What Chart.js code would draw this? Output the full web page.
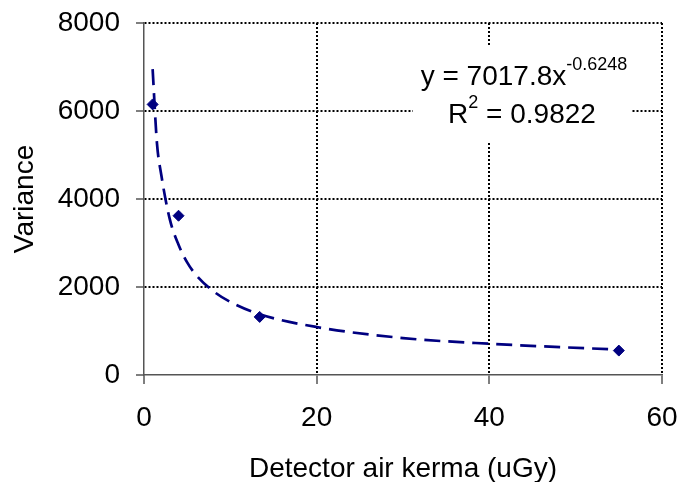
<!DOCTYPE html>
<html>
<head>
<meta charset="utf-8">
<script src="https://cdn.jsdelivr.net/npm/chart.js@4/dist/chart.umd.min.js"></script>
<style>
    html, body { margin: 0; padding: 0; background: #fff; }
    #wrap { width: 678px; height: 482px; }
</style>
</head>
<body>
<div id="wrap"><canvas id="varianceChart" width="678" height="482"></canvas></div>
<script>
// Measured points
const kermaValues = [1, 4, 13.4, 55];
const varianceValues = [6150, 3620, 1320, 555];

// Power trendline
const trendKerma = [1, 1.5, 2, 3, 4, 5, 6, 8, 10, 13.4, 20, 30, 40, 55];
const trendVariance = [6950, 5270, 4550, 3530, 2960, 2560, 2280, 1910, 1660, 1380, 1090, 840, 710, 575];

// Axis ticks
const xTicks = [0, 20, 40, 60];
const yTicks = [0, 2000, 4000, 6000, 8000];

const fontFamily = '"Liberation Sans", Arial, sans-serif';
const navy = '#000080';

// Equation label with white box behind it
const equationLabel = {
    id: 'equationLabel',
    beforeDatasetsDraw(chart) {
        const ctx = chart.ctx;
        ctx.save();
        ctx.fillStyle = '#fff';
        ctx.fillRect(413, 45, 219, 97);
        ctx.fillStyle = '#000';
        ctx.textBaseline = 'alphabetic';

        // line 1: y = 7017.8x^-0.6248
        ctx.font = '28px ' + fontFamily;
        const base1 = 'y = 7017.8x';
        const sup1 = '-0.6248';
        const w1 = ctx.measureText(base1).width;
        ctx.font = '18px ' + fontFamily;
        const ws1 = ctx.measureText(sup1).width;
        let x1 = 524 - (w1 + ws1) / 2;
        ctx.font = '28px ' + fontFamily;
        ctx.fillText(base1, x1, 85);
        ctx.font = '18px ' + fontFamily;
        ctx.fillText(sup1, x1 + w1, 70);

        // line 2: R^2 = 0.9822
        ctx.font = '28px ' + fontFamily;
        const wR = ctx.measureText('R').width;
        const rest = ' = 0.9822';
        const wRest = ctx.measureText(rest).width;
        ctx.font = '18px ' + fontFamily;
        const wSq = ctx.measureText('2').width;
        let x2 = 522 - (wR + wSq + wRest) / 2;
        ctx.font = '28px ' + fontFamily;
        ctx.fillText('R', x2, 123);
        ctx.font = '18px ' + fontFamily;
        ctx.fillText('2', x2 + wR, 108);
        ctx.font = '28px ' + fontFamily;
        ctx.fillText(rest, x2 + wR + wSq, 123);
        ctx.restore();
    }
};

function gridColor(c) {
    return c.tick && c.tick.value === 0 ? 'rgba(0,0,0,0)' : '#000';
}

new Chart(document.getElementById('varianceChart'), {
    type: 'scatter',
    data: {
        datasets: [{
            label: 'Trend',
            data: trendKerma.map((x, i) => ({ x: x, y: trendVariance[i] })),
            showLine: true,
            borderColor: navy,
            borderWidth: 2.7,
            borderDash: [16, 8],
            pointRadius: 0,
            cubicInterpolationMode: 'monotone',
            fill: false,
            order: 2
        }, {
            label: 'Variance',
            data: kermaValues.map((x, i) => ({ x: x, y: varianceValues[i] })),
            pointStyle: 'rectRot',
            pointRadius: 5.5,
            backgroundColor: navy,
            borderColor: navy,
            borderWidth: 1,
            order: 1
        }]
    },
    options: {
        responsive: false,
        animation: false,
        layout: { padding: { top: 23, right: 16, left: 0, bottom: 0 } },
        plugins: {
            legend: { display: false },
            tooltip: { enabled: false }
        },
        scales: {
            x: {
                type: 'linear',
                min: 0,
                max: 60,
                afterBuildTicks(axis) { axis.ticks = xTicks.map(v => ({ value: v })); },
                afterFit(axis) {
                    axis.height = 107;
                    axis.paddingLeft = 0;
                    axis.paddingRight = 0;
                },
                ticks: {
                    color: '#000',
                    font: { family: fontFamily, size: 28 },
                    padding: 17,
                    callback: v => String(v)
                },
                grid: {
                    color: gridColor,
                    lineWidth: 2,
                    tickColor: '#555',
                    tickWidth: 1.5,
                    tickLength: 9,
                    tickBorderDash: []
                },
                border: { color: '#555', width: 1.5, dash: [2, 2] },
                title: {
                    display: true,
                    text: 'Detector air kerma (uGy)',
                    color: '#000',
                    font: { family: fontFamily, size: 28 },
                    padding: { top: 0, bottom: -4 }
                }
            },
            y: {
                min: 0,
                max: 8000,
                afterBuildTicks(axis) { axis.ticks = yTicks.map(v => ({ value: v })); },
                afterFit(axis) {
                    axis.width = 144;
                    axis.paddingTop = 0;
                    axis.paddingBottom = 0;
                },
                ticks: {
                    color: '#000',
                    font: { family: fontFamily, size: 28 },
                    padding: 16,
                    callback: v => String(v)
                },
                grid: {
                    color: gridColor,
                    lineWidth: 2,
                    tickColor: '#555',
                    tickWidth: 1.5,
                    tickLength: 8,
                    tickBorderDash: []
                },
                border: { color: '#555', width: 1.5, dash: [2, 2] },
                title: {
                    display: true,
                    text: 'Variance',
                    color: '#000',
                    font: { family: fontFamily, size: 28 },
                    padding: { top: 8, bottom: 0 }
                }
            }
        }
    },
    plugins: [equationLabel]
});
</script>
</body>
</html>
